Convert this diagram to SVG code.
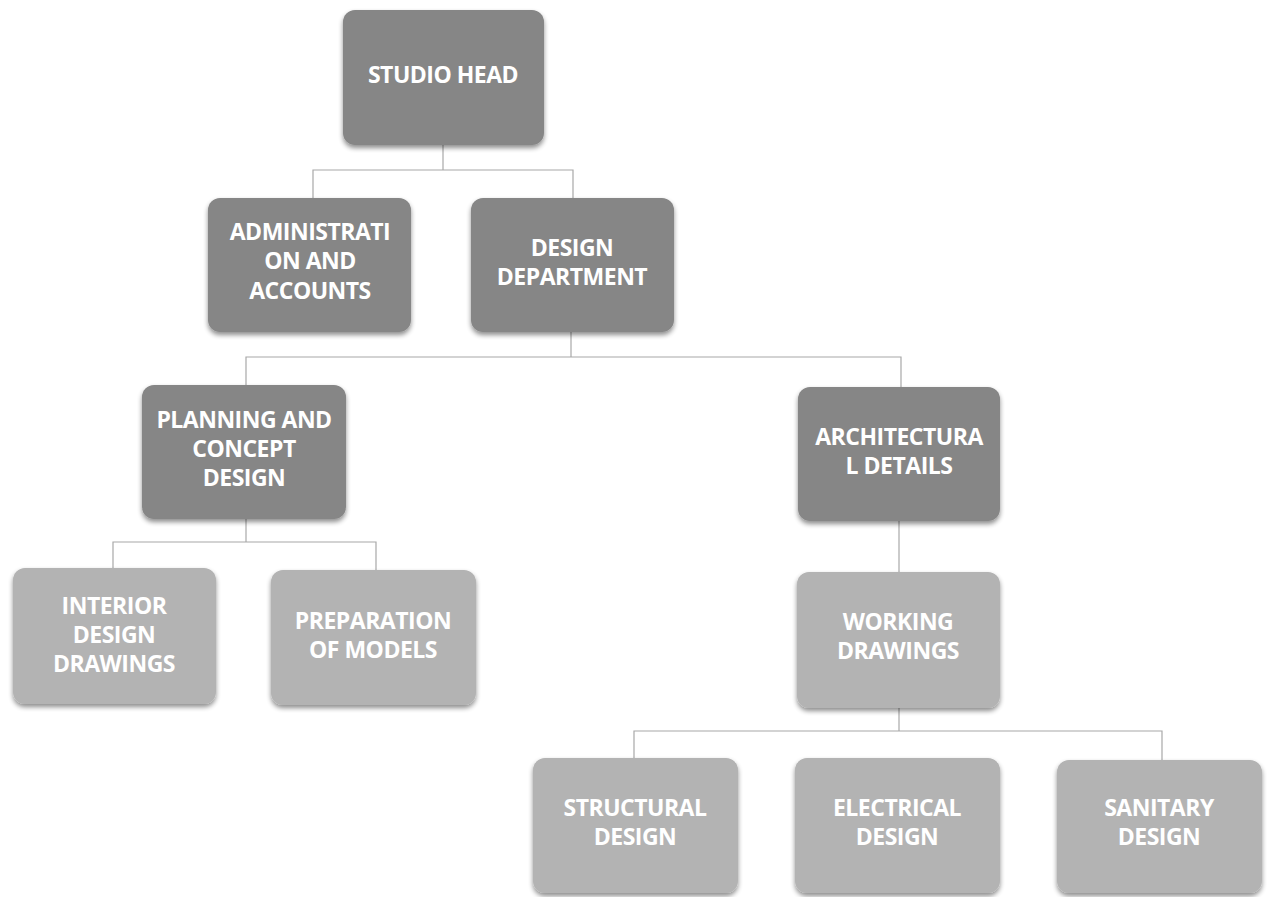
<svg xmlns="http://www.w3.org/2000/svg" width="1271" height="897" viewBox="0 0 1271 897">
  <defs>
    <filter id="shadow" x="-10%" y="-10%" width="120%" height="125%">
      <feGaussianBlur in="SourceAlpha" stdDeviation="2.5"/>
      <feOffset dx="0" dy="3" result="b"/>
      <feComponentTransfer><feFuncA type="linear" slope="0.45"/></feComponentTransfer>
      <feMerge><feMergeNode/><feMergeNode in="SourceGraphic"/></feMerge>
    </filter>
  </defs>
  <style>
    .box { filter: url(#shadow); }
    .dark { fill: #868686; }
    .light { fill: #b3b3b3; }
    .lbl { font-family: "Open Sans", "Liberation Sans", sans-serif; font-weight: 700; font-size: 23px; fill: #ffffff; text-anchor: middle; letter-spacing: -0.5px; }
    .conn { stroke: #a8a8a8; stroke-width: 1.2; fill: none; }
  </style>
  <rect width="1271" height="897" fill="#ffffff"/>

  <g id="connectors">
    <polyline class="conn" points="443,145 443,170"/>
    <polyline class="conn" points="313,198 313,170 573,170 573,198"/>
    <polyline class="conn" points="571,332 571,357"/>
    <polyline class="conn" points="246,385 246,357 901,357 901,387"/>
    <polyline class="conn" points="246,519 246,542"/>
    <polyline class="conn" points="113,568 113,542 376,542 376,570"/>
    <polyline class="conn" points="899,521 899,572"/>
    <polyline class="conn" points="899,708 899,731"/>
    <polyline class="conn" points="634,758 634,731 1162,731 1162,760"/>
  </g>

  <g id="studio-head">
    <rect class="box dark" x="343" y="10" width="201" height="135" rx="12"/>
    <text class="lbl" x="443" y="83">STUDIO HEAD</text>
  </g>
  <g id="administration">
    <rect class="box dark" x="208" y="198" width="203" height="134" rx="12"/>
    <text class="lbl" x="310" y="240">ADMINISTRATI</text>
    <text class="lbl" x="310" y="269">ON AND</text>
    <text class="lbl" x="310" y="299">ACCOUNTS</text>
  </g>
  <g id="design-department">
    <rect class="box dark" x="471" y="198" width="203" height="134" rx="12"/>
    <text class="lbl" x="572" y="256">DESIGN</text>
    <text class="lbl" x="572" y="285">DEPARTMENT</text>
  </g>
  <g id="planning">
    <rect class="box dark" x="142" y="385" width="204" height="134" rx="12"/>
    <text class="lbl" x="244" y="428">PLANNING AND</text>
    <text class="lbl" x="244" y="457">CONCEPT</text>
    <text class="lbl" x="244" y="486">DESIGN</text>
  </g>
  <g id="architectural">
    <rect class="box dark" x="798" y="387" width="202" height="134" rx="12"/>
    <text class="lbl" x="899" y="445">ARCHITECTURA</text>
    <text class="lbl" x="899" y="474">L DETAILS</text>
  </g>
  <g id="interior">
    <rect class="box light" x="13" y="568" width="203" height="136" rx="12"/>
    <text class="lbl" x="114" y="614">INTERIOR</text>
    <text class="lbl" x="114" y="643">DESIGN</text>
    <text class="lbl" x="114" y="672">DRAWINGS</text>
  </g>
  <g id="preparation">
    <rect class="box light" x="271" y="570" width="205" height="135" rx="12"/>
    <text class="lbl" x="373" y="629">PREPARATION</text>
    <text class="lbl" x="373" y="658">OF MODELS</text>
  </g>
  <g id="working">
    <rect class="box light" x="797" y="572" width="203" height="136" rx="12"/>
    <text class="lbl" x="898" y="630">WORKING</text>
    <text class="lbl" x="898" y="659">DRAWINGS</text>
  </g>
  <g id="structural">
    <rect class="box light" x="533" y="758" width="205" height="135" rx="12"/>
    <text class="lbl" x="635" y="816">STRUCTURAL</text>
    <text class="lbl" x="635" y="845">DESIGN</text>
  </g>
  <g id="electrical">
    <rect class="box light" x="795" y="758" width="205" height="135" rx="12"/>
    <text class="lbl" x="897" y="816">ELECTRICAL</text>
    <text class="lbl" x="897" y="845">DESIGN</text>
  </g>
  <g id="sanitary">
    <rect class="box light" x="1057" y="760" width="205" height="133" rx="12"/>
    <text class="lbl" x="1159" y="816">SANITARY</text>
    <text class="lbl" x="1159" y="845">DESIGN</text>
  </g>
</svg>
